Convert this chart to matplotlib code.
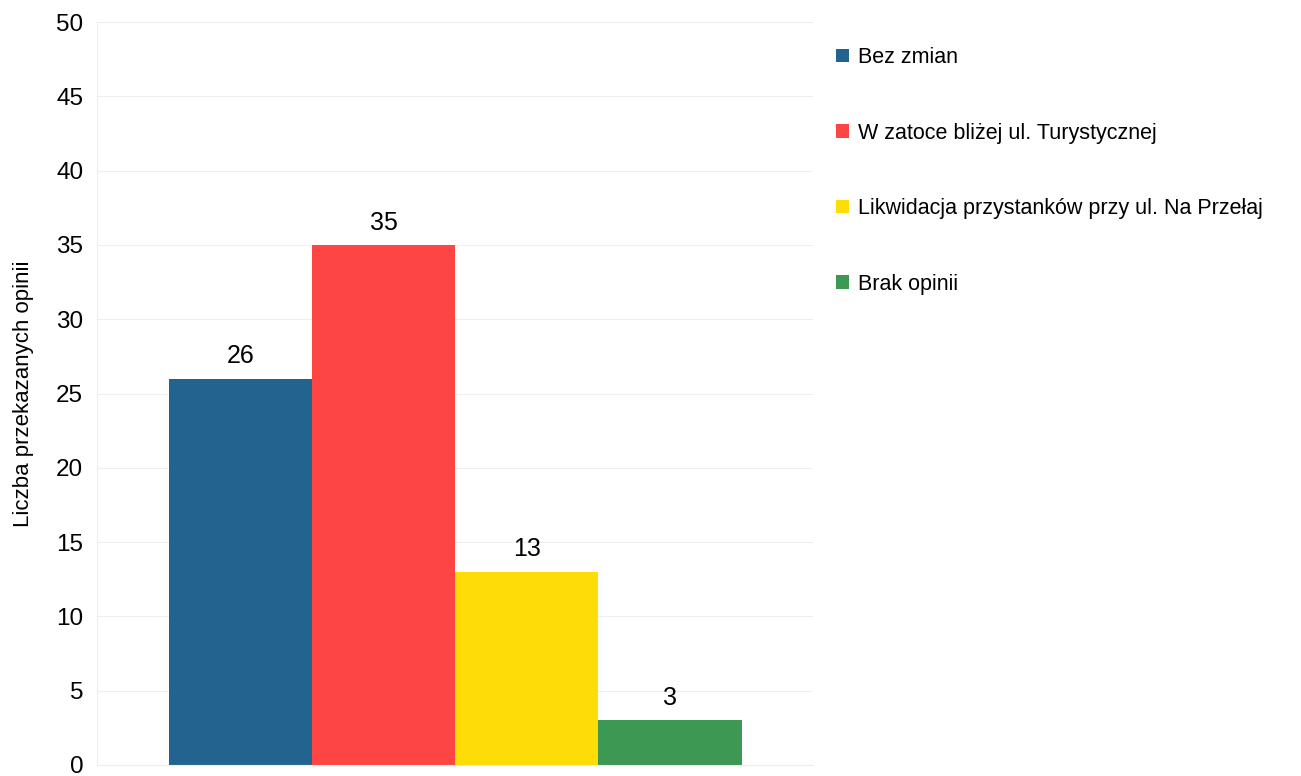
import matplotlib.pyplot as plt
from matplotlib.patches import Patch

plt.rcParams['font.family'] = ['Liberation Sans', 'DejaVu Sans']

categories = ["Bez zmian", "W zatoce bliżej ul. Turystycznej",
              "Likwidacja przystanków przy ul. Na Przełaj", "Brak opinii"]
values = [26, 35, 13, 3]
colors = ['#23638f', '#fd4644', '#fedc06', '#3c9852']
y_ticks = [0, 5, 10, 15, 20, 25, 30, 35, 40, 45, 50]

fig = plt.figure(figsize=(13.01, 7.76), dpi=100)
ax = fig.add_axes([0.0746, 0.0142, 0.5504, 0.9574])

x = list(range(len(values)))
ax.bar(x, values, width=1.0, color=colors, zorder=2)
for xi, v in zip(x, values):
    ax.text(xi, v + 0.7, str(v), ha='center', va='bottom', fontsize=18)

ax.set_xlim(-1.0, 4.0)
ax.set_ylim(0, 50)
ax.set_yticks(y_ticks)
ax.set_xticks([])
ax.tick_params(axis='y', length=0, labelsize=17.5, pad=10)
ax.grid(axis='y', color='#eeeeee', linewidth=0.8, zorder=0)
for s in ['top', 'right']:
    ax.spines[s].set_visible(False)
ax.spines['left'].set_color('#eeeeee')
ax.spines['bottom'].set_color('#eeeeee')
ax.set_ylabel("Liczba przekazanych opinii", fontsize=16, labelpad=16)

handles = [Patch(facecolor=c, edgecolor='none') for c in colors]
fig.legend(handles, categories, loc='upper left', bbox_to_anchor=(0.634, 0.953),
           frameon=False, fontsize=15.5, handlelength=0.6, handleheight=0.6,
           handletextpad=0.45, labelspacing=2.53, borderpad=0)

fig.savefig('out.png', dpi=100)
